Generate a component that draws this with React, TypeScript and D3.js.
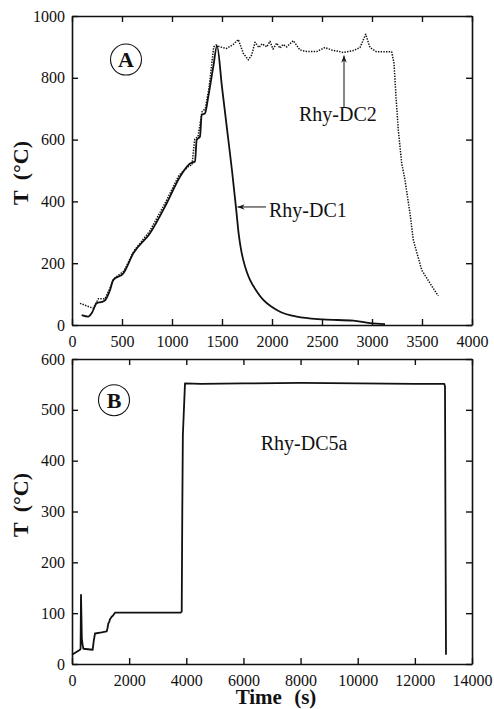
import React, { useRef, useEffect } from 'react';
import * as d3 from 'd3';

// panel A: Rhy-DC1 (solid) and Rhy-DC2 (dotted), time in s, T in °C
const dc1Time = [97, 163, 200, 247, 300, 330, 380, 413, 513, 613, 780, 947, 1080, 1180, 1230, 1247, 1280, 1297, 1330, 1363, 1413, 1450, 1500, 1550, 1600, 1640, 1665, 1690, 1713, 1750, 1780, 1850, 1913, 2000, 2080, 2247, 2513, 2813, 2980, 3130];
const dc1Temp = [32, 27, 40, 71, 75, 80, 113, 146, 167, 232, 297, 394, 480, 523, 529, 599, 610, 680, 685, 739, 836, 903, 770, 635, 500, 380, 300, 245, 210, 170, 146, 108, 81, 58, 43, 27, 18, 14, 6, 3];

const dc2Time = [80, 213, 263, 330, 380, 420, 520, 620, 780, 940, 1070, 1170, 1200, 1227, 1260, 1300, 1333, 1370, 1417, 1440, 1480, 1547, 1613, 1663, 1713, 1763, 1797, 1830, 1870, 1900, 1947, 1980, 2010, 2047, 2080, 2110, 2147, 2213, 2280, 2347, 2447, 2530, 2597, 2713, 2813, 2880, 2937, 2980, 3047, 3197, 3220, 3240, 3263, 3297, 3330, 3380, 3413, 3497, 3580, 3663];
const dc2Temp = [70, 54, 85, 85, 120, 150, 175, 240, 305, 400, 485, 515, 518, 600, 610, 690, 700, 767, 900, 906, 900, 895, 908, 924, 879, 858, 874, 915, 898, 910, 900, 918, 893, 912, 896, 908, 900, 920, 890, 885, 885, 898, 890, 882, 888, 898, 941, 898, 884, 884, 847, 739, 631, 523, 469, 361, 275, 178, 135, 94];

// panel B: Rhy-DC5a
const dc5Time = [0, 280, 300, 315, 345, 370, 400, 723, 760, 805, 1038, 1213, 1240, 1272, 1300, 1330, 1388, 1430, 1505, 3800, 3840, 3860, 3880, 3955, 4500, 6000, 8000, 10000, 12000, 13032, 13055, 13070, 13090];
const dc5Temp = [18, 28, 30, 136, 50, 38, 30, 28, 45, 60, 62, 64, 70, 80, 82, 88, 93, 95, 101, 101, 103, 300, 450, 552, 551, 552, 553, 552, 551, 551, 546, 300, 18];

const topXTicks = [0, 500, 1000, 1500, 2000, 2500, 3000, 3500, 4000];
const topYTicks = [0, 200, 400, 600, 800, 1000];
const botXTicks = [0, 2000, 4000, 6000, 8000, 10000, 12000, 14000];
const botYTicks = [0, 100, 200, 300, 400, 500, 600];

const serif = '"Liberation Serif", "Times New Roman", Times, serif';

const App = () => {
  const ref = useRef<SVGSVGElement>(null);

  useEffect(() => {
    const svg = d3.select(ref.current);
    svg.selectAll('*').remove();

    const defs = svg.append('defs');
    defs.append('marker')
      .attr('id', 'arr')
      .attr('viewBox', '-10 -5 12 10')
      .attr('markerWidth', 10)
      .attr('markerHeight', 8)
      .attr('markerUnits', 'userSpaceOnUse')
      .attr('orient', 'auto')
      .append('path')
      .attr('d', 'M0,0 L-9,-3.5 L-6,0 L-9,3.5 Z')
      .attr('fill', '#111');

    const panel = (left: number, right: number, top: number, bottom: number,
      xDom: number[], yDom: number[], xt: number[], yt: number[]) => {
      const x = d3.scaleLinear().domain(xDom).range([left, right]);
      const y = d3.scaleLinear().domain(yDom).range([bottom, top]);
      const g = svg.append('g');

      const style = (a: any) => {
        a.attr('font-family', null).attr('font-size', null)
          .style('font-family', serif).style('font-size', '16px').style('font-weight', '400');
        a.select('.domain').attr('stroke', '#111').attr('stroke-width', 1.6);
        a.selectAll('.tick line').attr('stroke', '#111').attr('stroke-width', 1.4);
        a.selectAll('.tick text').attr('fill', '#111');
      };

      g.append('g').attr('transform', `translate(0,${bottom})`)
        .call(d3.axisBottom(x).tickValues(xt).tickSize(-6).tickSizeOuter(0).tickPadding(11).tickFormat(d3.format('d')))
        .call(style);
      g.append('g').attr('transform', `translate(0,${top})`)
        .call(d3.axisTop(x).tickValues(xt).tickSize(-6).tickSizeOuter(0).tickFormat(() => ''))
        .call(style);
      g.append('g').attr('transform', `translate(${left},0)`)
        .call(d3.axisLeft(y).tickValues(yt).tickSize(-6).tickSizeOuter(0).tickPadding(7).tickFormat(d3.format('d')))
        .call(style);
      g.append('g').attr('transform', `translate(${right},0)`)
        .call(d3.axisRight(y).tickValues(yt).tickSize(-6).tickSizeOuter(0).tickFormat(() => ''))
        .call(style);
      return { x, y, g };
    };

    const drawLine = (g: any, x: any, y: any, ts: number[], vs: number[], dotted: boolean, curve: any) => {
      const ln = d3.line<number>()
        .x((d, i) => x(ts[i]))
        .y((d) => y(d))
        .curve(curve);
      g.append('path')
        .attr('d', ln(vs))
        .attr('fill', 'none')
        .attr('stroke', '#111')
        .attr('stroke-width', dotted ? 1.5 : 1.8)
        .attr('stroke-dasharray', dotted ? '1.4,1.3' : null)
        .attr('stroke-linejoin', 'round');
    };

    const label = (g: any, px: number, py: number, txt: string, size: number, bold = false, anchor = 'start') =>
      g.append('text')
        .attr('x', px).attr('y', py)
        .style('font-family', serif)
        .style('font-size', `${size}px`)
        .style('font-weight', bold ? '700' : '400')
        .attr('text-anchor', anchor)
        .attr('fill', '#111')
        .text(txt);

    const circled = (g: any, cx: number, cy: number, txt: string) => {
      g.append('circle').attr('cx', cx).attr('cy', cy).attr('r', 15.5)
        .attr('fill', 'none').attr('stroke', '#111').attr('stroke-width', 1.1);
      label(g, cx, cy + 7.5, txt, 22, true, 'middle');
    };

    const yLabel = (cy: number) => {
      svg.append('text')
        .attr('transform', `translate(28,${cy}) rotate(-90)`)
        .style('font-family', serif)
        .style('font-size', '22px')
        .style('font-weight', '700')
        .attr('text-anchor', 'middle')
        .attr('word-spacing', 5)
        .attr('fill', '#111')
        .text('T (°C)');
    };

    // ---- panel A
    const A = panel(72, 472, 16, 325, [0, 4000], [0, 1000], topXTicks, topYTicks);
    drawLine(A.g, A.x, A.y, dc2Time, dc2Temp, true, d3.curveLinear);
    drawLine(A.g, A.x, A.y, dc1Time, dc1Temp, false, d3.curveMonotoneX);
    circled(A.g, A.x(540), A.y(859), 'A');

    A.g.append('line')
      .attr('x1', A.x(1940)).attr('y1', A.y(382))
      .attr('x2', A.x(1655)).attr('y2', A.y(382))
      .attr('stroke', '#111').attr('stroke-width', 1)
      .attr('marker-end', 'url(#arr)');
    label(A.g, A.x(1970), A.y(350), 'Rhy-DC1', 20);

    A.g.append('line')
      .attr('x1', A.x(2720)).attr('y1', A.y(705))
      .attr('x2', A.x(2720)).attr('y2', A.y(872))
      .attr('stroke', '#111').attr('stroke-width', 1)
      .attr('marker-end', 'url(#arr)');
    label(A.g, A.x(2270), A.y(660), 'Rhy-DC2', 20);
    yLabel(173);

    // ---- panel B
    const B = panel(72, 472, 359, 664, [0, 14000], [0, 600], botXTicks, botYTicks);
    drawLine(B.g, B.x, B.y, dc5Time, dc5Temp, false, d3.curveLinear);
    circled(B.g, B.x(1470), B.y(519), 'B');
    label(B.g, B.x(6605), B.y(421), 'Rhy-DC5a', 20);
    yLabel(505);

    svg.append('text')
      .attr('x', 276).attr('y', 704)
      .style('font-family', serif)
      .style('font-size', '21px')
      .style('font-weight', '700')
      .attr('text-anchor', 'middle')
      .attr('word-spacing', 7)
      .attr('fill', '#111')
      .text('Time (s)');
  }, []);

  return (
    <svg ref={ref} width={494} height={709}
      style={{ position: 'absolute', left: 0, top: 0, background: '#fff' }} />
  );
};

export default App;
